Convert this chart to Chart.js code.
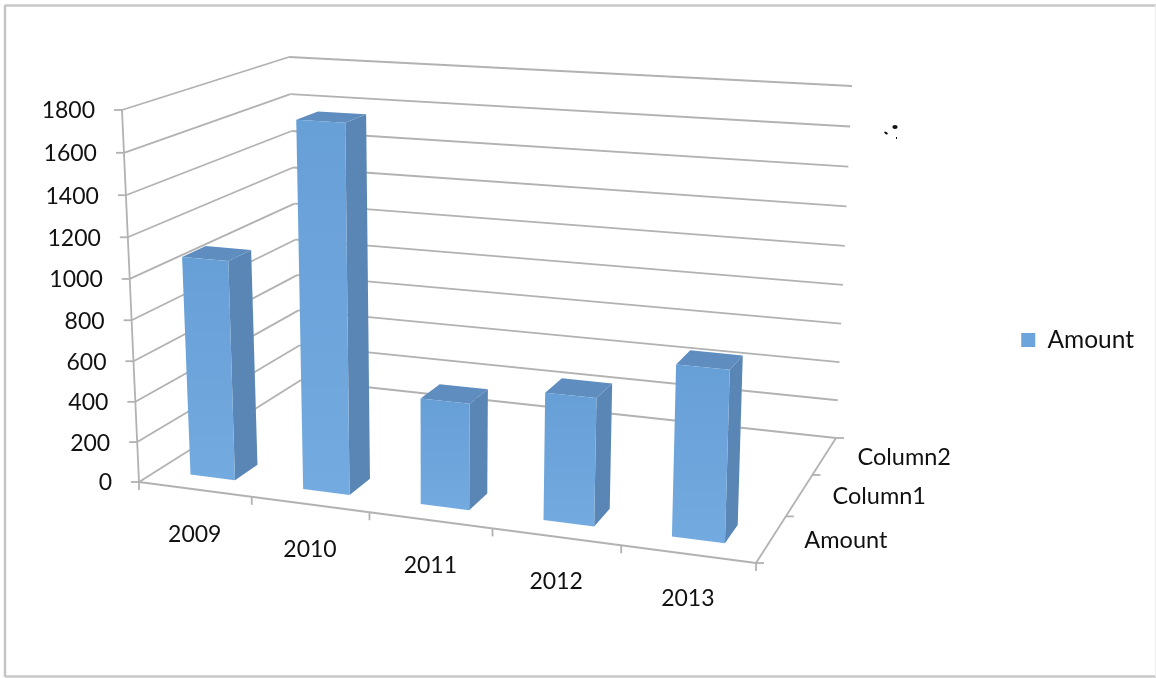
<!DOCTYPE html>
<html><head><meta charset="utf-8">
<style>html,body{margin:0;padding:0;background:#fff}canvas{display:block;filter:blur(0.55px)}#w{width:1156px;height:678px}</style>
<script src="https://cdn.jsdelivr.net/npm/chart.js@4"></script></head>
<body><div id="w"><canvas id="c" width="1156" height="678"></canvas></div>
<script>
const categories=['2009','2010','2011','2012','2013'];
const amount=[1080,1770,510,600,790];
const depthLabels=['Amount','Column1','Column2'];
const seriesName='Amount';
const yMin=0,yMax=1800,yStep=200;

// picture frame of the 3D box (projection only, no data)
const A=[139,482],B=[756,563],C=[836,438],D=[301,380];
const E=[122,110],H=[768,149],G=[852,86],F=[289,57];
const K=.04; // vertical foreshortening
function homog(p0,p1,p2,p3){ // unit square (0,0),(1,0),(1,1),(0,1)
  const dx1=p1[0]-p2[0],dx2=p3[0]-p2[0],sx=p0[0]-p1[0]+p2[0]-p3[0];
  const dy1=p1[1]-p2[1],dy2=p3[1]-p2[1],sy=p0[1]-p1[1]+p2[1]-p3[1];
  const det=dx1*dy2-dx2*dy1;
  const g=(sx*dy2-dx2*sy)/det,h=(dx1*sy-sx*dy1)/det;
  const a=p1[0]-p0[0]+g*p1[0],b=p3[0]-p0[0]+h*p3[0],c=p0[0];
  const d=p1[1]-p0[1]+g*p1[1],e=p3[1]-p0[1]+h*p3[1],f=p0[1];
  return (u,w)=>{const q=g*u+h*w+1;return [(a*u+b*w+c)/q,(d*u+e*w+f)/q];};
}
const floorMap=homog(A,B,C,D),topMap=homog(E,H,G,F);
function P(u,v,w){const a=floorMap(u,w),b=topMap(u,w),s=v/(1+K*(1-v));return [a[0]+(b[0]-a[0])*s,a[1]+(b[1]-a[1])*s];}

const GRID='#b2b2b2',FRONT='#6ca5db',SIDE='#5a86b6',TOP='#5f8dbf',TEXT='#111111';
const FONT_NUM='23px Lato',FONT_WORD='23.5px Lato';
function line(ctx,a,b,col,lw){ctx.strokeStyle=col||GRID;ctx.lineWidth=lw||1.8;ctx.beginPath();ctx.moveTo(a[0],a[1]);ctx.lineTo(b[0],b[1]);ctx.stroke();}
function poly(ctx,pts,fill){ctx.fillStyle=fill;ctx.beginPath();pts.forEach((p,i)=>i?ctx.lineTo(p[0],p[1]):ctx.moveTo(p[0],p[1]));ctx.closePath();ctx.fill();}
function vOf(sc,val){return (sc.bottom-sc.getPixelForValue(val))/(sc.bottom-sc.top);}

const box3d={id:'box3d',
 beforeDraw(chart){
  const ctx=chart.ctx,y=chart.scales.y;
  ctx.save();
  line(ctx,[5,5.5],[1156,5.5],'#c8c8c8',2.5);
  line(ctx,[5,5],[5,677],'#c4c4c4',2.5);
  line(ctx,[5,676.5],[1156,676.5],'#c8c8c8',2.5);
  line(ctx,[1155.5,5],[1155.5,677],'#ececec',1);
  y.ticks.forEach(t=>{
    const v=vOf(y,t.value);
    const a=P(0,v,0),b=P(0,v,1),c=P(1,v,1);
    line(ctx,a,b);line(ctx,b,c);
    line(ctx,[a[0]-8,a[1]],a);
  });
  line(ctx,P(0,0,0),P(0,1,0));
  line(ctx,P(0,0,0),P(1,0,0));
  line(ctx,P(1,0,0),P(1,0,1));
  const n=categories.length;
  for(let i=0;i<=n;i++){const p=P(i/n,0,0);line(ctx,p,[p[0],p[1]+8]);}
  for(let i=0;i<=depthLabels.length;i++){const p=P(1,0,i/depthLabels.length);line(ctx,p,[p[0]+8,p[1]]);}
  // scan specks
  ctx.fillStyle='#111';
  ctx.beginPath();ctx.ellipse(895,127,2.6,2,0,0,7);ctx.fill();
  ctx.beginPath();ctx.ellipse(886,133,2,1,.5,0,7);ctx.fill();
  ctx.fillRect(896,137,1,2);
  ctx.restore();
 },
 beforeDatasetDraw(chart,args){
  const ctx=chart.ctx,ca=chart.chartArea,meta=args.meta;
  const w0=.1,w1=.233;
  ctx.save();
  meta.data.forEach(el=>{
    const u1=(el.x-el.width/2-ca.left)/(ca.right-ca.left),u2=(el.x+el.width/2-ca.left)/(ca.right-ca.left);
    const v=(ca.bottom-el.y)/(ca.bottom-ca.top),b=(ca.bottom-el.base)/(ca.bottom-ca.top);
    poly(ctx,[P(u2,b,w0),P(u2,b,w1),P(u2,v,w1),P(u2,v,w0)],SIDE);
    poly(ctx,[P(u1,v,w0),P(u2,v,w0),P(u2,v,w1),P(u1,v,w1)],TOP);
    const f=[P(u1,b,w0),P(u2,b,w0),P(u2,v,w0),P(u1,v,w0)];
    const g=ctx.createLinearGradient(0,f[2][1],0,f[1][1]);
    g.addColorStop(0,'#679fd7');g.addColorStop(1,'#73aadf');
    poly(ctx,f,g);
  });
  ctx.restore();
  return false;
 },
 afterDraw(chart){
  const ctx=chart.ctx,y=chart.scales.y,x=chart.scales.x,ca=chart.chartArea;
  ctx.save();
  ctx.fillStyle=TEXT;ctx.textBaseline='middle';
  ctx.font=FONT_NUM;
  ctx.textAlign='right';
  y.ticks.forEach(t=>{const p=P(0,vOf(y,t.value),0);ctx.fillText(String(t.value),p[0]-27,p[1]+1);});
  ctx.textAlign='center';
  categories.forEach((c,i)=>{const u=(x.getPixelForValue(i)-ca.left)/(ca.right-ca.left);const p=P(u,0,0);ctx.fillText(c,p[0],p[1]+45);});
  ctx.textAlign='left';
  ctx.font=FONT_WORD;
  depthLabels.forEach((c,i)=>{const p=P(1,0,(i+.5)/depthLabels.length);ctx.fillText(c,p[0]+33,p[1]+1);});
  ctx.restore();
 }
};

new Chart(document.getElementById('c'),{
 type:'bar',
 data:{labels:categories,datasets:[{label:seriesName,data:amount,backgroundColor:FRONT,borderWidth:0,categoryPercentage:1,barPercentage:.4}]},
 options:{responsive:false,animation:false,
  layout:{padding:{top:12,bottom:10,left:10,right:12}},
  plugins:{tooltip:{enabled:false},title:{display:false},
   legend:{position:'right',labels:{font:{family:'Lato',size:24.5},color:TEXT,boxWidth:14,boxHeight:14,padding:10}}},
  scales:{
   x:{display:false,type:'category'},
   y:{display:false,min:yMin,max:yMax,ticks:{stepSize:yStep}}
  }},
 plugins:[box3d]
});
</script></body></html>
